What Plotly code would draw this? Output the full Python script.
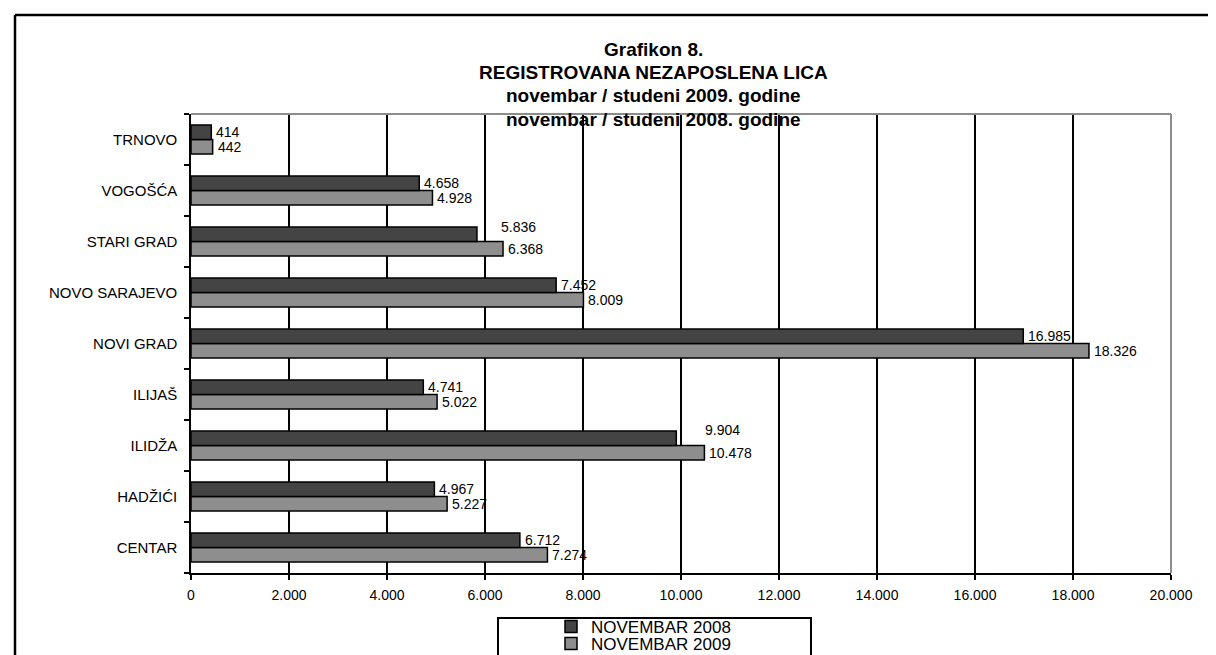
import plotly.graph_objects as go

# ---- data ----
categories = ["CENTAR", "HADŽIĆI", "ILIDŽA", "ILIJAŠ", "NOVI GRAD",
              "NOVO SARAJEVO", "STARI GRAD", "VOGOŠĆA", "TRNOVO"]
nov_2008 = [6712, 4967, 9904, 4741, 16985, 7452, 5836, 4658, 414]
nov_2009 = [7274, 5227, 10478, 5022, 18326, 8009, 6368, 4928, 442]
series_names = ["NOVEMBAR 2008", "NOVEMBAR 2009"]
title_lines = ["Grafikon 8.", "REGISTROVANA NEZAPOSLENA LICA",
               "novembar / studeni 2009. godine", "novembar / studeni 2008. godine"]
x_ticks = [0, 2000, 4000, 6000, 8000, 10000, 12000, 14000, 16000, 18000, 20000]

# label nudges (pixels) for labels that sit away from their bar, like the original
nudge_2008 = {"STARI GRAD": (19, 7), "ILIDŽA": (24, 8)}

W, H = 1216, 655
L, R, T, B = 183, 1163, 106, 565
FONT = "Liberation Sans, Arial, sans-serif"


def px_x(p):
    return (p - L) / (R - L)


def px_y(p):
    return (B - p) / (B - T)


def fmt(v):
    return f"{v:,}".replace(",", ".")


fig = go.Figure()
fig.add_trace(go.Bar(y=categories, x=nov_2009, orientation="h", name=series_names[1],
                     legend="legend2",
                     marker=dict(color="#8e8e8e", line=dict(color="black", width=1.5))))
fig.add_trace(go.Bar(y=categories, x=nov_2008, orientation="h", name=series_names[0],
                     legend="legend",
                     marker=dict(color="#444444", line=dict(color="black", width=1.5))))

annotations = []
for cat, v in zip(categories, nov_2008):
    dx, dy = nudge_2008.get(cat, (0, 0))
    annotations.append(dict(x=v, y=cat, xref="x", yref="y", text=fmt(v), showarrow=False,
                            xanchor="left", yanchor="middle", xshift=3 + dx, yshift=7.25 + dy,
                            font=dict(family=FONT, size=14, color="black")))
for cat, v in zip(categories, nov_2009):
    annotations.append(dict(x=v, y=cat, xref="x", yref="y", text=fmt(v), showarrow=False,
                            xanchor="left", yanchor="middle", xshift=3, yshift=-7.25,
                            font=dict(family=FONT, size=14, color="black")))

title_y = [41, 64.5, 88, 111.5]
for line, yy in zip(title_lines, title_y):
    annotations.append(dict(x=px_x(645), y=px_y(yy), xref="paper", yref="paper",
                            text=f"<b>{line}</b>", showarrow=False, xanchor="center",
                            yanchor="middle",
                            font=dict(family=FONT, size=19, color="black")))

shapes = [
    # outer frame (left and top edges)
    dict(type="line", xref="paper", yref="paper", x0=px_x(7), x1=px_x(7), y0=px_y(7), y1=px_y(720),
         line=dict(color="black", width=2.5)),
    dict(type="line", xref="paper", yref="paper", x0=px_x(7), x1=px_x(1240), y0=px_y(7), y1=px_y(7),
         line=dict(color="black", width=2.5)),
    # plot area top/right border in grey
    dict(type="line", xref="paper", yref="paper", x0=0, x1=1, y0=1, y1=1,
         line=dict(color="#8c8c8c", width=2), layer="above"),
    dict(type="line", xref="paper", yref="paper", x0=1, x1=1, y0=0, y1=1,
         line=dict(color="#8c8c8c", width=2), layer="above"),
    # legend box
    dict(type="rect", xref="paper", yref="paper", x0=px_x(490), x1=px_x(803),
         y0=px_y(649), y1=px_y(610), line=dict(color="black", width=2)),
]

legend_common = dict(xanchor="left", yanchor="middle", bgcolor="rgba(0,0,0,0)", borderwidth=0,
                     font=dict(family=FONT, size=17, color="black"))

fig.update_layout(
    width=W, height=H,
    margin=dict(l=L, r=W - R, t=T, b=H - B, autoexpand=False),
    paper_bgcolor="white", plot_bgcolor="white",
    barmode="group", bargap=0.43, bargroupgap=0,
    separators=",.",
    font=dict(family=FONT, size=14, color="black"),
    showlegend=True,
    legend=dict(x=px_x(543), y=px_y(619), **legend_common),
    legend2=dict(x=px_x(543), y=px_y(636), **legend_common),
    annotations=annotations,
    shapes=shapes,
    xaxis=dict(range=[0, 20000], tickvals=x_ticks, tickformat=",d",
               showgrid=True, gridcolor="black", gridwidth=1.5,
               showline=True, linecolor="black", linewidth=1.5,
               ticks="outside", ticklen=5, tickcolor="black", tickwidth=1.5,
               ticklabelstandoff=3, zeroline=False,
               tickfont=dict(family=FONT, size=14, color="black")),
    yaxis=dict(categoryorder="array", categoryarray=categories,
               showgrid=False, showline=True, linecolor="black", linewidth=1.5,
               ticks="outside", tickson="boundaries", ticklen=5, tickcolor="black", tickwidth=1.5,
               ticklabelstandoff=9, zeroline=False,
               tickfont=dict(family=FONT, size=15, color="black")),
)

fig.write_html("out.html")
